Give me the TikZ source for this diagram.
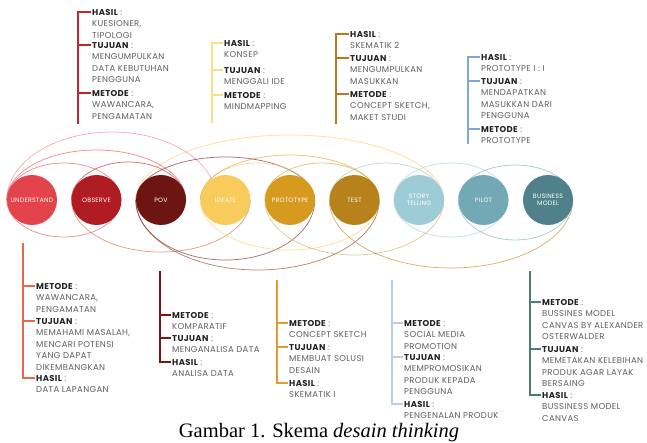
\documentclass[tikz,border=0pt]{standalone}
\usepackage{fontspec}
\setmainfont{Liberation Serif}
\newfontfamily\lblfont[LetterSpace=4]{Poppins}
\usetikzlibrary{backgrounds}

% phase colours
\definecolor{cUnd}{HTML}{E3434B}
\definecolor{cObs}{HTML}{AF1D22}
\definecolor{cPov}{HTML}{6D1512}
\definecolor{cIde}{HTML}{F8CB5C}
\definecolor{cPro}{HTML}{D69A1F}
\definecolor{cTes}{HTML}{B7811B}
\definecolor{cSto}{HTML}{9DCCD6}
\definecolor{cPil}{HTML}{72A9B4}
\definecolor{cBus}{HTML}{50808A}
% bracket colours
\definecolor{kObs}{HTML}{C1272D}
\definecolor{kIde}{HTML}{F6DF86}
\definecolor{kTes}{HTML}{B8781E}
\definecolor{kPil}{HTML}{7FA7D1}
\definecolor{kUnd}{HTML}{E8674F}
\definecolor{kPov}{HTML}{7A1518}
\definecolor{kPro}{HTML}{E39B2F}
\definecolor{kSto}{HTML}{BCCFE6}
\definecolor{kBus}{HTML}{4E7B6F}
\definecolor{txgray}{HTML}{5E5E5E}
\definecolor{hdgray}{HTML}{222222}

\newcommand\lbl{\lblfont\fontsize{8.5}{11.5}\selectfont}
\newcommand\cirfont{\lblfont\fontsize{6.3}{7.5}\selectfont}
\newcommand\capfont{\fontsize{20.5}{24}\selectfont}
\newcommand\hdr[1]{{\color{hdgray}\bfseries #1} :}

\begin{document}
\begin{tikzpicture}[x=1pt,y=-1pt,
  phase/.style={circle,minimum size=50pt,inner sep=0pt,text=white,font=\cirfont,align=center},
  sect/.style={anchor=north west,inner sep=0pt,align=left,font=\lbl,text=txgray},
  stem/.style={line width=2.4pt},
  orbit/.style={line width=0.75pt,opacity=0.6}]
\useasboundingbox (0,0) rectangle (647,443);

% phases
\node[phase,fill=cUnd] (und) at (32,200) {UNDERSTAND};
\node[phase,fill=cObs] (obs) at (96.5,200) {OBSERVE};
\node[phase,fill=cPov] (pov) at (161,200) {POV};
\node[phase,fill=cIde] (ide) at (225.5,200) {IDEATE};
\node[phase,fill=cPro] (pro) at (290,200) {PROTOTYPE};
\node[phase,fill=cTes] (tes) at (354.5,200) {TEST};
\node[phase,fill=cSto] (sto) at (419,200) {STORY\\TELLING};
\node[phase,fill=cPil] (pil) at (483.5,200) {PILOT};
\node[phase,fill=cBus] (bus) at (548,200) {BUSINESS\\MODEL};

% loops, under the phases
\begin{scope}[on background layer]
% upper half
\draw[orbit,cUnd] (und.west) arc[start angle=180,end angle=360,x radius=57,y radius=37];
\draw[orbit,cUnd] (und.west) arc[start angle=180,end angle=360,x radius=89.5,y radius=50];
\draw[orbit,cUnd!70] (und.west) arc[start angle=180,end angle=360,x radius=105,y radius=68];
\draw[orbit,cObs] (obs.west) arc[start angle=180,end angle=360,x radius=57,y radius=38];
\draw[orbit,cPov] (pov.west) arc[start angle=180,end angle=360,x radius=89.5,y radius=43];
\draw[orbit,cIde] (pov.west) arc[start angle=180,end angle=360,x radius=154,y radius=65];
\draw[orbit,cIde] (ide.west) arc[start angle=180,end angle=360,x radius=57,y radius=37];
\draw[orbit,cPro] (ide.west) arc[start angle=180,end angle=360,x radius=89.5,y radius=45];
\draw[orbit,cPro] (pro.west) arc[start angle=180,end angle=360,x radius=57,y radius=37];
\draw[orbit,cSto!80!cTes] (tes.west) arc[start angle=180,end angle=360,x radius=57,y radius=37];
\draw[orbit,cSto] (sto.west) arc[start angle=180,end angle=360,x radius=57,y radius=37];
\draw[orbit,cPil] (pil.west) arc[start angle=180,end angle=360,x radius=57,y radius=35];
% lower half
\draw[orbit,cUnd] (und.west) arc[start angle=180,end angle=0,x radius=57,y radius=37];
\draw[orbit,cObs!60!cIde] (obs.west) arc[start angle=180,end angle=0,x radius=89.5,y radius=52];
\draw[orbit,cPov] (pov.west) arc[start angle=180,end angle=0,x radius=89.5,y radius=60];
\draw[orbit,cPov!70!cTes] (pov.west) arc[start angle=180,end angle=0,x radius=121.75,y radius=70];
\draw[orbit,cIde] (ide.west) arc[start angle=180,end angle=0,x radius=89.5,y radius=50];
\draw[orbit,cPro!70!cSto] (pro.west) arc[start angle=180,end angle=0,x radius=89.5,y radius=55];
\draw[orbit,cTes] (tes.west) arc[start angle=180,end angle=0,x radius=121.75,y radius=68];
\draw[orbit,cSto] (sto.west) arc[start angle=180,end angle=0,x radius=57,y radius=37];
\draw[orbit,cPil] (pil.west) arc[start angle=180,end angle=0,x radius=57,y radius=40];
\end{scope}

% observe (top, red)
\node[sect] (obsH) at (92,9) {\hdr{HASIL}\\KUESIONER,\\TIPOLOGI};
\node[sect] (obsT) at (92,42) {\hdr{TUJUAN}\\MENGUMPULKAN\\DATA KEBUTUHAN\\PENGGUNA};
\node[sect] (obsM) at (92,90) {\hdr{METODE}\\WAWANCARA,\\PENGAMATAN};
\coordinate (obsX) at (78,124);
\draw[stem,kObs] ([xshift=-1.5pt,yshift=-3pt]obsH.north west) -| (obsX);
\draw[stem,kObs] ([xshift=-1.5pt,yshift=-3pt]obsT.north west) -| (obsX);
\draw[stem,kObs] ([xshift=-1.5pt,yshift=-3pt]obsM.north west) -| (obsX);

% ideate (top, yellow)
\node[sect] (ideH) at (224,40) {\hdr{HASIL}\\KONSEP};
\node[sect] (ideT) at (224,67) {\hdr{TUJUAN}\\MENGGALI IDE};
\node[sect] (ideM) at (224,92) {\hdr{METODE}\\MINDMAPPING};
\coordinate (ideX) at (212,123);
\draw[stem,kIde] ([xshift=-1.5pt,yshift=-3pt]ideH.north west) -| (ideX);
\draw[stem,kIde] ([xshift=-1.5pt,yshift=-3pt]ideT.north west) -| (ideX);
\draw[stem,kIde] ([xshift=-1.5pt,yshift=-3pt]ideM.north west) -| (ideX);

% test (top, brown)
\node[sect] (tesH) at (350,31) {\hdr{HASIL}\\SKEMATIK 2};
\node[sect] (tesT) at (350,55) {\hdr{TUJUAN}\\MENGUMPULKAN\\MASUKKAN};
\node[sect] (tesM) at (350,91) {\hdr{METODE}\\CONCEPT SKETCH,\\MAKET STUDI};
\coordinate (tesX) at (336,124);
\draw[stem,kTes] ([xshift=-1.5pt,yshift=-3pt]tesH.north west) -| (tesX);
\draw[stem,kTes] ([xshift=-1.5pt,yshift=-3pt]tesT.north west) -| (tesX);
\draw[stem,kTes] ([xshift=-1.5pt,yshift=-3pt]tesM.north west) -| (tesX);

% pilot (top, blue)
\node[sect] (pilH) at (481,54) {\hdr{HASIL}\\PROTOTYPE I : I};
\node[sect] (pilT) at (481,78) {\hdr{TUJUAN}\\MENDAPATKAN\\MASUKKAN DARI\\PENGGUNA};
\node[sect] (pilM) at (481,126) {\hdr{METODE}\\PROTOTYPE};
\coordinate (pilX) at (468,144);
\draw[stem,kPil] ([xshift=-1.5pt,yshift=-3pt]pilH.north west) -| (pilX);
\draw[stem,kPil] ([xshift=-1.5pt,yshift=-3pt]pilT.north west) -| (pilX);
\draw[stem,kPil] ([xshift=-1.5pt,yshift=-3pt]pilM.north west) -| (pilX);

% understand (bottom, orange red)
\node[sect] (undM) at (36,283) {\hdr{METODE}\\WAWANCARA,\\PENGAMATAN};
\node[sect] (undT) at (36,318) {\hdr{TUJUAN}\\MEMAHAMI MASALAH,\\MENCARI POTENSI\\YANG DAPAT\\DIKEMBANGKAN};
\node[sect] (undH) at (36,375) {\hdr{HASIL}\\DATA LAPANGAN};
\coordinate (undX) at (23,243);
\draw[stem,kUnd] ([xshift=-1.5pt,yshift=-3pt]undM.north west) -| (undX);
\draw[stem,kUnd] ([xshift=-1.5pt,yshift=-3pt]undT.north west) -| (undX);
\draw[stem,kUnd] ([xshift=-1.5pt,yshift=-3pt]undH.north west) -| (undX);

% pov (bottom, dark red)
\node[sect] (povM) at (172,312) {\hdr{METODE}\\KOMPARATIF};
\node[sect] (povT) at (172,335) {\hdr{TUJUAN}\\MENGANALISA DATA};
\node[sect] (povH) at (172,359) {\hdr{HASIL}\\ANALISA DATA};
\coordinate (povX) at (160,271);
\draw[stem,kPov] ([xshift=-1.5pt,yshift=-3pt]povM.north west) -| (povX);
\draw[stem,kPov] ([xshift=-1.5pt,yshift=-3pt]povT.north west) -| (povX);
\draw[stem,kPov] ([xshift=-1.5pt,yshift=-3pt]povH.north west) -| (povX);

% prototype (bottom, orange)
\node[sect] (proM) at (289,320) {\hdr{METODE}\\CONCEPT SKETCH};
\node[sect] (proT) at (289,344) {\hdr{TUJUAN}\\MEMBUAT SOLUSI\\DESAIN};
\node[sect] (proH) at (289,380) {\hdr{HASIL}\\SKEMATIK I};
\coordinate (proX) at (277,280);
\draw[stem,kPro] ([xshift=-1.5pt,yshift=-3pt]proM.north west) -| (proX);
\draw[stem,kPro] ([xshift=-1.5pt,yshift=-3pt]proT.north west) -| (proX);
\draw[stem,kPro] ([xshift=-1.5pt,yshift=-3pt]proH.north west) -| (proX);

% story telling (bottom, light blue)
\node[sect] (stoM) at (404,320) {\hdr{METODE}\\SOCIAL MEDIA\\PROMOTION};
\node[sect] (stoT) at (404,354) {\hdr{TUJUAN}\\MEMPROMOSIKAN\\PRODUK KEPADA\\PENGGUNA};
\node[sect] (stoH) at (404,401) {\hdr{HASIL}\\PENGENALAN PRODUK};
\coordinate (stoX) at (392,280);
\draw[stem,kSto] ([xshift=-1.5pt,yshift=-3pt]stoM.north west) -| (stoX);
\draw[stem,kSto] ([xshift=-1.5pt,yshift=-3pt]stoT.north west) -| (stoX);
\draw[stem,kSto] ([xshift=-1.5pt,yshift=-3pt]stoH.north west) -| (stoX);

% business model (bottom, teal)
\node[sect] (busM) at (542,299) {\hdr{METODE}\\BUSSINES MODEL\\CANVAS BY ALEXANDER\\OSTERWALDER};
\node[sect] (busT) at (542,346) {\hdr{TUJUAN}\\MEMETAKAN KELEBIHAN\\PRODUK AGAR LAYAK\\BERSAING};
\node[sect] (busH) at (542,392) {\hdr{HASIL}\\BUSSINESS MODEL\\CANVAS};
\coordinate (busX) at (530,271);
\draw[stem,kBus] ([xshift=-1.5pt,yshift=-3pt]busM.north west) -| (busX);
\draw[stem,kBus] ([xshift=-1.5pt,yshift=-3pt]busT.north west) -| (busX);
\draw[stem,kBus] ([xshift=-1.5pt,yshift=-3pt]busH.north west) -| (busX);

% caption
\node[font=\capfont,anchor=base,inner sep=0pt] (cap) at (319,437) {Gambar 1. Skema \textit{desain thinking}};
\end{tikzpicture}
\end{document}
